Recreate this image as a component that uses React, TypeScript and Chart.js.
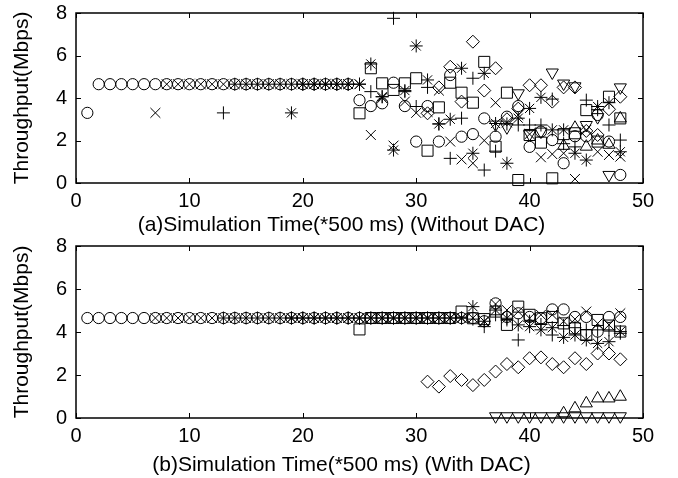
import React, { useEffect, useRef } from "react";
import { Chart, registerables } from "chart.js";

Chart.register(...registerables);

// ---------- Data (values per time step, series start times) ----------
const xTicks = [0, 10, 20, 30, 40, 50];
const yTicks = [0, 2, 4, 6, 8];
const yTitle = "Throughput(Mbps)";
const titleA = "(a)Simulation Time(*500 ms) (Without DAC)";
const titleB = "(b)Simulation Time(*500 ms) (With DAC)";

// (a) Without DAC
const aCircleStart = 1;
const aCircle = [3.3, 4.65, 4.65, 4.65, 4.65, 4.65, 4.65, 4.65, 4.65, 4.65, 4.65, 4.65, 4.65, 4.65, 4.65, 4.65, 4.65, 4.65, 4.65, 4.65, 4.65, 4.65, 4.65, 4.65,
  3.9, 3.62, 3.75, 4.72, 3.62, 1.95, 3.62, 1.95, 5.08, 2.18, 2.3, 3.04, 2.18, 3.12, 3.62, 1.7, 2.42, 2.02, 0.93, 2.2, 2.2, 3.2, 1.95, 0.38];
const aCrossStart = 7;
const aCross = [3.3, 4.65, 4.65, 4.65, 4.65, 4.65, 4.65, 4.65, 4.65, 4.65, 4.65, 4.65, 4.65, 4.65, 4.65, 4.65, 4.65, 4.65,
  4.65, 2.26, 4.0, 1.76, 3.83, 3.3, 3.35, 4.35, 1.95, 1.11, 0.93, 2.0, 3.78, 2.85, 3.2, 2.3, 1.21, 1.36, 1.4, 0.19, 2.5, 1.47, 1.32, 1.24];
const aPlusStart = 13;
const aPlus = [3.3, 4.65, 4.65, 4.65, 4.65, 4.65, 4.65, 4.65, 4.65, 4.65, 4.65, 4.65,
  4.65, 4.3, 4.06, 7.75, 4.3, 3.6, 4.5, 2.78, 1.16, 3.05, 4.93, 0.61, 1.5, 2.78, 2.73, 2.73, 2.73, 3.95, 1.85, 1.7, 3.9, 3.45, 2.73, 2.02];
const aStarStart = 19;
const aStar = [3.3, 4.65, 4.65, 4.65, 4.65, 4.65,
  4.65, 5.6, 4.06, 1.55, 4.35, 6.45, 4.85, 2.78, 3.0, 5.4, 1.4, 5.16, 2.8, 0.93, 3.05, 3.51, 4.03, 2.5, 2.5, 1.4, 1.08, 3.6, 3.78, 1.47];
const aSquareStart = 25;
const aSquare = [3.28, 5.4, 4.69, 4.38, 4.69, 4.93, 1.52, 3.56, 4.72, 4.25, 3.78, 5.7, 1.71, 4.25, 0.14, 2.26, 1.9, 0.22, 2.3, 2.34, 3.43, 1.95, 4.06, 3.04];
const aDiamondStart = 31;
const aDiamond = [3.28, 4.5, 5.47, 3.83, 6.65, 4.35, 5.4, 3.0, 3.5, 4.6, 4.6, 3.83, 4.5, 4.5, 2.45, 2.26, 3.47, 4.06];
const aTriDownStart = 37;
const aTriDown = [2.75, 2.62, 4.22, 2.3, 2.42, 5.2, 4.68, 4.55, 2.73, 3.1, 0.38, 4.5];
const aTriUpStart = 43;
const aTriUp = [1.75, 2.6, 1.71, 2.0, 1.8, 3.04];

// (b) With DAC
const bCircleStart = 1;
const bCircle = [4.65, 4.65, 4.65, 4.65, 4.65, 4.65, 4.65, 4.65, 4.65, 4.65, 4.65, 4.65, 4.65, 4.65, 4.65, 4.65, 4.65, 4.65, 4.65, 4.65, 4.65, 4.65, 4.65, 4.65, 4.65, 4.65, 4.65, 4.65, 4.65, 4.65, 4.65, 4.65, 4.65,
  4.65, 4.65, 4.5, 5.33, 4.7, 4.87, 4.7, 4.64, 5.05, 5.05, 4.7, 4.7, 4.02, 4.7, 4.7];
const bCrossStart = 7;
const bCross = [4.65, 4.65, 4.65, 4.65, 4.65, 4.65, 4.65, 4.65, 4.65, 4.65, 4.65, 4.65, 4.65, 4.65, 4.65, 4.65, 4.65, 4.65, 4.65, 4.65, 4.65, 4.65, 4.65, 4.65, 4.65, 4.65, 4.65,
  4.65, 4.65, 4.5, 5.3, 5.02, 4.95, 4.64, 4.8, 4.8, 4.5, 4.6, 4.95, 4.4, 4.33, 4.87];
const bPlusStart = 13;
const bPlus = [4.65, 4.65, 4.65, 4.65, 4.65, 4.65, 4.65, 4.65, 4.65, 4.65, 4.65, 4.65, 4.65, 4.65, 4.65, 4.65, 4.65, 4.65, 4.65, 4.65, 4.65,
  4.65, 4.6, 4.25, 4.8, 4.56, 3.63, 4.5, 4.35, 3.86, 4.3, 4.2, 4.1, 4.1, 4.1, 3.94];
const bStarStart = 19;
const bStar = [4.65, 4.65, 4.65, 4.65, 4.65, 4.65, 4.65, 4.65, 4.65, 4.65, 4.65, 4.65, 4.65, 4.65, 4.65,
  4.65, 5.18, 4.5, 5.02, 4.64, 4.33, 4.25, 4.1, 4.2, 3.75, 3.86, 3.63, 3.47, 3.55, 4.02];
const bSquareStart = 25;
const bSquare = [4.12, 4.65, 4.65, 4.65, 4.65, 4.65, 4.65, 4.65, 4.65,
  4.95, 4.64, 4.6, 4.95, 4.33, 5.18, 4.8, 4.64, 4.7, 4.4, 4.17, 3.86, 4.56, 4.3, 4.02];
const bDiamondStart = 31;
const bDiamond = [1.69, 1.46, 1.95, 1.77, 1.53, 1.77, 2.16, 2.51, 2.36, 2.78, 2.82, 2.51, 2.36, 2.78, 2.51, 3.0, 3.0, 2.73];
const bTriDownStart = 37;
const bTriDown = [0.08, 0.08, 0.08, 0.08, 0.08, 0.08, 0.08, 0.08, 0.08, 0.08, 0.08, 0.08];
const bTriUpStart = 43;
const bTriUp = [0.22, 0.45, 0.68, 0.91, 0.91, 0.99];

// ---------- Helpers ----------
const FONT = "'Liberation Sans', Arial, Helvetica, sans-serif";

type Style = { pointStyle: any; radius: number; rotation?: number };
const styles: Record<string, Style> = {
  circle: { pointStyle: "circle", radius: 5.6 },
  cross: { pointStyle: "crossRot", radius: 7 },
  plus: { pointStyle: "cross", radius: 6.5 },
  star: { pointStyle: "star", radius: 6.5 },
  square: { pointStyle: "rect", radius: 7.8 },
  diamond: { pointStyle: "rectRot", radius: 6.5 },
  triDown: { pointStyle: "triangle", radius: 7, rotation: 180 },
  triUp: { pointStyle: "triangle", radius: 7 },
};

function series(name: string, start: number, values: number[]) {
  const s = styles[name];
  return {
    label: name,
    data: values.map((v, i) => ({ x: start + i, y: v })),
    showLine: false,
    pointStyle: s.pointStyle,
    pointRadius: s.radius,
    pointHoverRadius: s.radius,
    pointRotation: s.rotation || 0,
    pointBorderColor: "#000",
    pointBackgroundColor: "rgba(0,0,0,0)",
    pointBorderWidth: 1,
    borderColor: "#000",
    backgroundColor: "rgba(0,0,0,0)",
    clip: false as any,
  };
}

const framePlugin = {
  id: "matlabFrame",
  afterDraw(chart: any, _args: any, opts: any) {
    const { ctx, chartArea } = chart;
    const { left, right, top, bottom } = chartArea;
    const xs = chart.scales.x;
    const ys = chart.scales.y;
    ctx.save();
    ctx.strokeStyle = "#000";
    ctx.lineWidth = 1;
    const L = 5;
    ctx.beginPath();
    xs.ticks.forEach((t: any) => {
      const px = Math.round(xs.getPixelForValue(t.value)) + 0.5;
      ctx.moveTo(px, bottom);
      ctx.lineTo(px, bottom - L);
      ctx.moveTo(px, top);
      ctx.lineTo(px, top + L);
    });
    ys.ticks.forEach((t: any) => {
      const py = Math.round(ys.getPixelForValue(t.value)) + 0.5;
      ctx.moveTo(left, py);
      ctx.lineTo(left + L, py);
      ctx.moveTo(right, py);
      ctx.lineTo(right - L, py);
    });
    ctx.stroke();
    ctx.lineWidth = 1.5;
    ctx.strokeRect(left, top, right - left, bottom - top);
    // x-axis caption (shifted slightly left of the axis centre, as in the original figure)
    if (opts && opts.text) {
      ctx.fillStyle = "#000";
      ctx.font = `${opts.size}px ${FONT}`;
      ctx.textAlign = "center";
      ctx.textBaseline = "middle";
      ctx.fillText(opts.text, (left + right) / 2 + opts.dx, chart.height - opts.fromBottom);
    }
    ctx.restore();
  },
};

function makeConfig(datasets: any[], title: string, canvasH: number, padTop: number, areaBottom: number, titleFromBottom: number) {
  return {
    type: "scatter" as const,
    data: { datasets },
    plugins: [framePlugin],
    options: {
      animation: false as const,
      responsive: false,
      maintainAspectRatio: false,
      events: [],
      layout: { padding: { top: padTop, right: 35, left: 0, bottom: 0 } },
      plugins: {
        legend: { display: false },
        tooltip: { enabled: false },
        matlabFrame: { text: title, size: 21, dx: -18, fromBottom: titleFromBottom },
      },
      scales: {
        x: {
          type: "linear" as const,
          min: 0,
          max: 50,
          afterBuildTicks: (s: any) => { s.ticks = xTicks.map((v) => ({ value: v })); },
          afterFit: (s: any) => {
            s.height = canvasH - areaBottom;
            s.paddingLeft = 0;
            s.paddingRight = 0;
          },
          grid: { display: false, drawTicks: false },
          border: { display: false },
          ticks: { color: "#000", padding: 6, font: { family: FONT, size: 20 } },
          title: { display: false },
        },
        y: {
          type: "linear" as const,
          min: 0,
          max: 8,
          afterBuildTicks: (s: any) => { s.ticks = yTicks.map((v) => ({ value: v })); },
          afterFit: (s: any) => {
            s.width = 76;
            s.paddingTop = 0;
            s.paddingBottom = 0;
          },
          grid: { display: false, drawTicks: false },
          border: { display: false },
          ticks: { color: "#000", padding: 9, font: { family: FONT, size: 20 } },
          title: {
            display: true,
            text: yTitle,
            color: "#000",
            font: { family: FONT, size: 21 },
            padding: { top: 9.4, bottom: 0 },
          },
        },
      },
    },
  };
}

export default function App() {
  const ref1 = useRef<HTMLCanvasElement>(null);
  const ref2 = useRef<HTMLCanvasElement>(null);

  useEffect(() => {
    const dsA = [
      series("circle", aCircleStart, aCircle),
      series("cross", aCrossStart, aCross),
      series("plus", aPlusStart, aPlus),
      series("star", aStarStart, aStar),
      series("square", aSquareStart, aSquare),
      series("diamond", aDiamondStart, aDiamond),
      series("triDown", aTriDownStart, aTriDown),
      series("triUp", aTriUpStart, aTriUp),
    ];
    const dsB = [
      series("circle", bCircleStart, bCircle),
      series("cross", bCrossStart, bCross),
      series("plus", bPlusStart, bPlus),
      series("star", bStarStart, bStar),
      series("square", bSquareStart, bSquare),
      series("diamond", bDiamondStart, bDiamond),
      series("triDown", bTriDownStart, bTriDown),
      series("triUp", bTriUpStart, bTriUp),
    ];
    const c1 = new Chart(ref1.current as HTMLCanvasElement, makeConfig(dsA, titleA, 240, 13, 183, 15) as any);
    const c2 = new Chart(ref2.current as HTMLCanvasElement, makeConfig(dsB, titleB, 248, 16, 188, 13) as any);
    return () => {
      c1.destroy();
      c2.destroy();
    };
  }, []);

  return (
    <div style={{ position: "absolute", left: 0, top: 0, width: 678, height: 478, background: "#fff" }}>
      <canvas ref={ref1} width={678} height={240} style={{ position: "absolute", left: 0, top: 0, width: 678, height: 240 }} />
      <canvas ref={ref2} width={678} height={248} style={{ position: "absolute", left: 0, top: 230, width: 678, height: 248 }} />
    </div>
  );
}
